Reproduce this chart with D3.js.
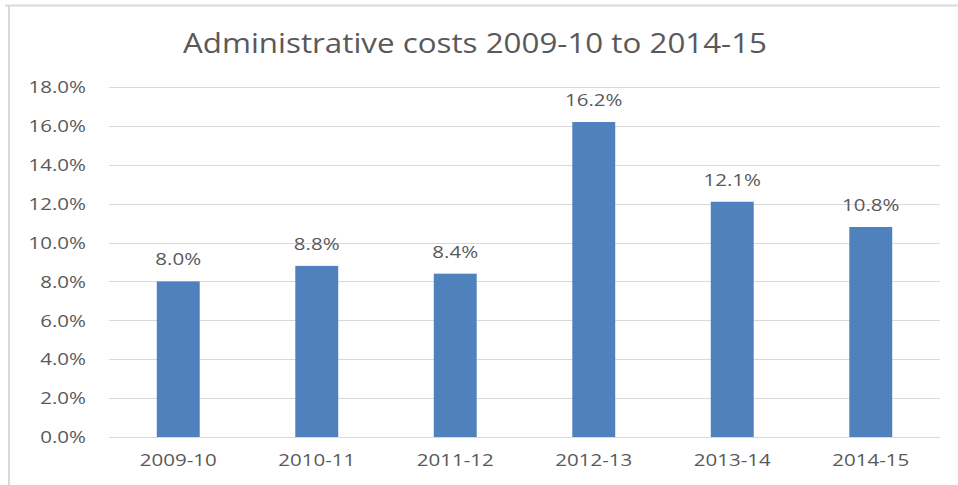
<!DOCTYPE html>
<html>
<head>
<meta charset="utf-8">
<script src="https://cdn.jsdelivr.net/npm/d3@7"></script>
<style>
  body { margin: 0; background: #fff; }
  text { font-family: "Open Sans", sans-serif; fill: #595959; }
</style>
</head>
<body>
<svg id="viz" width="958" height="485"></svg>
<script>
var years = ["2009-10", "2010-11", "2011-12", "2012-13", "2013-14", "2014-15"];
var costs = [8.0, 8.8, 8.4, 16.2, 12.1, 10.8];
var yTicks = [0, 2, 4, 6, 8, 10, 12, 14, 16, 18];
var title = "Administrative costs 2009-10 to 2014-15";

var svg = d3.select("#viz");
var margin = { top: 87, left: 109, bottom: 48, right: 18 };
var width = +svg.attr("width") - margin.left - margin.right;
var height = +svg.attr("height") - margin.top - margin.bottom;
var stretch = 1.28; // the screenshot's text is a bit wider than the font

function widen(sel, k) {
  sel.each(function () {
    var w = this.getComputedTextLength();
    d3.select(this).attr("textLength", w * k).attr("lengthAdjust", "spacingAndGlyphs");
  });
}

// chart frame (partial border like the screenshot)
svg.append("line")
  .attr("x1", 5).attr("x2", 958).attr("y1", 5.5).attr("y2", 5.5)
  .attr("stroke", "#d9d9d9").attr("stroke-width", 2);
svg.append("line")
  .attr("x1", 9).attr("x2", 9).attr("y1", 5).attr("y2", 485)
  .attr("stroke", "#d9d9d9").attr("stroke-width", 2);

var x = d3.scaleBand().domain(years).range([0, width]).paddingInner(0.69).paddingOuter(0.345);
var y = d3.scaleLinear().domain([0, 18]).range([height, 0]);

var chart = svg.append("g")
  .attr("transform", "translate(" + margin.left + "," + margin.top + ")");

// gridlines
chart.selectAll(".grid")
  .data(yTicks)
  .enter()
  .append("line")
  .attr("x1", 0).attr("x2", width)
  .attr("y1", function (d) { return Math.round(y(d)) + 0.5; })
  .attr("y2", function (d) { return Math.round(y(d)) + 0.5; })
  .attr("stroke", "#d9d9d9")
  .attr("stroke-width", 1);

// y axis labels
var yAxis = chart.append("g")
  .call(d3.axisLeft(y).tickValues(yTicks).tickSize(0).tickPadding(23)
    .tickFormat(function (d) { return d.toFixed(1) + "%"; }));
yAxis.select(".domain").remove();
yAxis.selectAll("text").style("font-size", "16px").attr("fill", "#595959").attr("dy", "0.36em");
widen(yAxis.selectAll("text"), stretch);

// x axis labels
var xAxis = chart.append("g")
  .attr("transform", "translate(0," + height + ")")
  .call(d3.axisBottom(x).tickSize(0).tickPadding(18));
xAxis.select(".domain").remove();
xAxis.selectAll("text").style("font-size", "16px").attr("fill", "#595959");
widen(xAxis.selectAll("text"), stretch);

// bars
chart.selectAll(".bar")
  .data(costs)
  .enter()
  .append("rect")
  .attr("x", function (d, i) { return x(years[i]); })
  .attr("width", x.bandwidth())
  .attr("y", function (d) { return y(d); })
  .attr("height", function (d) { return height - y(d); })
  .attr("fill", "#4f81bd");

// value labels
var labels = chart.selectAll(".label")
  .data(costs)
  .enter()
  .append("text")
  .attr("x", function (d, i) { return x(years[i]) + x.bandwidth() / 2; })
  .attr("y", function (d) { return y(d) - 16; })
  .attr("text-anchor", "middle")
  .style("font-size", "16px")
  .text(function (d) { return d.toFixed(1) + "%"; });
widen(labels, stretch);

// title
var t = svg.append("text")
  .attr("x", 475)
  .attr("y", 53)
  .attr("text-anchor", "middle")
  .style("font-size", "28px")
  .text(title);
t.attr("textLength", 584).attr("lengthAdjust", "spacingAndGlyphs");
</script>
</body>
</html>
